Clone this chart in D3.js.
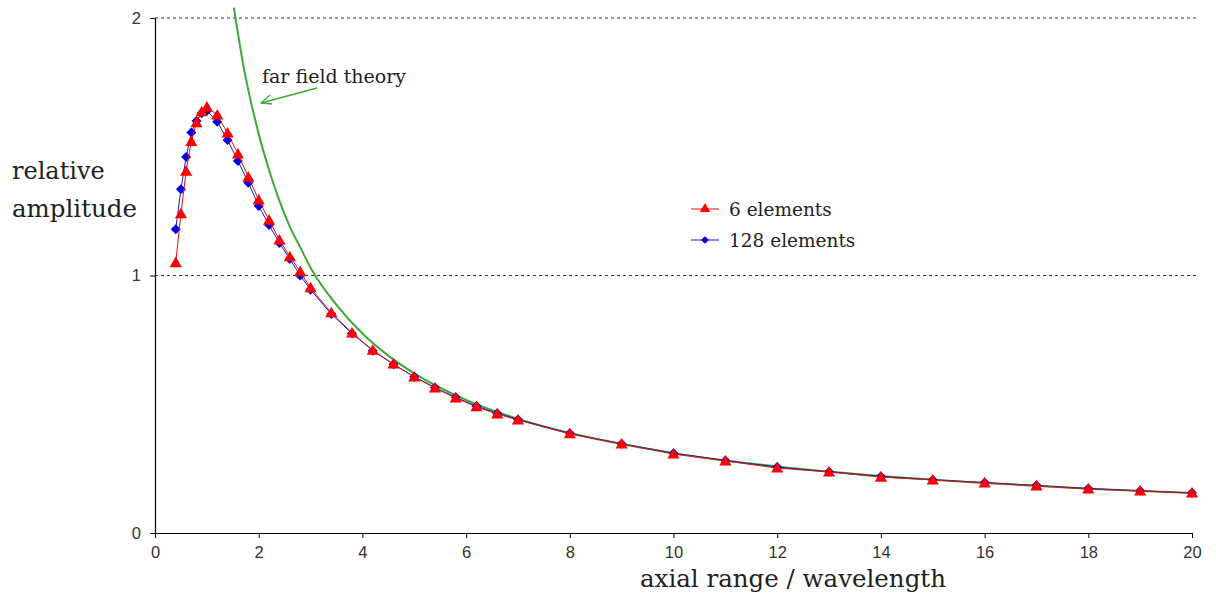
<!DOCTYPE html>
<html><head><meta charset="utf-8">
<script src="https://cdn.jsdelivr.net/npm/d3@7"></script>
<style>
html,body{margin:0;padding:0;background:#fff;}
svg{display:block;}
</style></head>
<body>
<svg id="chart" width="1216" height="603"></svg>
<script>
// ---- data ----
const xValues = [0.4,0.5,0.6,0.7,0.8,0.9,1.0,1.2,1.4,1.6,1.8,2.0,2.2,2.4,2.6,2.8,3.0,3.4,3.8,4.2,4.6,5.0,5.4,5.8,6.2,6.6,7.0,8,9,10,11,12,13,14,15,16,17,18,19,20];
const sixElements = [1.05,1.24,1.405,1.52,1.593,1.636,1.654,1.623,1.553,1.472,1.382,1.293,1.215,1.138,1.073,1.015,0.952,0.855,0.777,0.71,0.656,0.606,0.563,0.524,0.49,0.462,0.439,0.385,0.346,0.307,0.28,0.252,0.237,0.217,0.206,0.194,0.183,0.171,0.163,0.155];
const elements128 = [1.18,1.335,1.46,1.555,1.60,1.63,1.64,1.597,1.526,1.445,1.36,1.27,1.196,1.126,1.064,1.0,0.945,0.85,0.775,0.708,0.655,0.607,0.565,0.527,0.493,0.465,0.441,0.387,0.347,0.31,0.282,0.256,0.238,0.22,0.207,0.196,0.185,0.173,0.164,0.156];
const farFieldX = [1.52,1.6,1.7,1.8,2.0,2.2,2.4,2.6,2.8,3.0,3.5,4,4.5,5,6,7,8,10,12,14,16,18,20];
const farFieldY = [2.04,1.94,1.82,1.72,1.55,1.41,1.29,1.19,1.11,1.03,0.886,0.775,0.689,0.62,0.517,0.443,0.388,0.31,0.258,0.221,0.194,0.172,0.155];
const xTicks = [0,2,4,6,8,10,12,14,16,18,20];
const yTicks = [0,1,2];
const gridValues = [1,2];
const legendLabels = ["6 elements","128 elements"];

const svg = d3.select("#chart");
const x = d3.scaleLinear().domain([0,20]).range([155,1192]);
const y = d3.scaleLinear().domain([0,2]).range([533,18]);

const serif = "'DejaVu Serif', 'Liberation Serif', serif";
const sans = "'Liberation Sans', Arial, sans-serif";

// grid
svg.append("g").selectAll("line").data(gridValues).join("line")
  .attr("x1", x(0)).attr("x2", 1196)
  .attr("y1", d=>y(d)).attr("y2", d=>y(d))
  .attr("stroke","#333").attr("stroke-width",1).attr("stroke-dasharray","3,3");

// axes
const xAxis = svg.append("g").attr("transform",`translate(0,${y(0)})`)
  .call(d3.axisBottom(x).tickValues(xTicks).tickFormat(d3.format("d")).tickSize(5).tickSizeOuter(0).tickPadding(8));
const yAxis = svg.append("g").attr("transform",`translate(${x(0)},0)`)
  .call(d3.axisLeft(y).tickValues(yTicks).tickFormat(d3.format("d")).tickSize(5).tickSizeOuter(0).tickPadding(9));
[xAxis,yAxis].forEach(g=>{
  g.attr("font-size",16.5).attr("font-family",sans);
  g.selectAll("path.domain").attr("stroke","#000").attr("stroke-width",1.2);
  g.selectAll(".tick line").attr("stroke","#000");
  g.selectAll("text").attr("font-family",sans).attr("font-size",16.5).attr("fill","#333");
});

// far field curve
const line = d3.line().x(d=>x(d[0])).y(d=>y(d[1]));
svg.append("path").datum(d3.zip(farFieldX, farFieldY))
  .attr("d", line.curve(d3.curveMonotoneX))
  .attr("fill","none").attr("stroke","#3aaa35").attr("stroke-width",2);

const lineStraight = d3.line().x(d=>x(d[0])).y(d=>y(d[1]));
const blueData = d3.zip(xValues, elements128);
const redData = d3.zip(xValues, sixElements);

const diamond = d3.symbol(d3.symbolSquare, 50)();
const tri = d3.symbol(d3.symbolTriangle, 64)();

// blue series
svg.append("path").datum(blueData).attr("d", lineStraight)
  .attr("fill","none").attr("stroke","#1a1acc").attr("stroke-width",1);
svg.append("g").selectAll("path").data(blueData).join("path")
  .attr("d", diamond)
  .attr("transform", d=>`translate(${x(d[0])},${y(d[1])}) rotate(45)`)
  .attr("fill","#0000e0");

// red series
svg.append("path").datum(redData).attr("d", lineStraight)
  .attr("fill","none").attr("stroke","#e01010").attr("stroke-width",1);
svg.append("g").selectAll("path").data(redData).join("path")
  .attr("d", tri)
  .attr("transform", d=>`translate(${x(d[0])},${y(d[1])+1})`)
  .attr("fill","#ff0000");

// annotation
svg.append("text").attr("x",262).attr("y",83).text("far field theory")
  .attr("font-family",serif).attr("font-size",19).attr("fill","#222");
svg.append("line").attr("x1",317).attr("y1",88).attr("x2",261).attr("y2",103)
  .attr("stroke","#3aaa35").attr("stroke-width",1.3);
svg.append("path").attr("d","M270,95 L261,103 L272,104")
  .attr("fill","none").attr("stroke","#3aaa35").attr("stroke-width",1.3);

// legend
const legend = svg.append("g");
const legY = [209, 240];
legend.append("line").attr("x1",691).attr("x2",719).attr("y1",legY[0]).attr("y2",legY[0]).attr("stroke","#e01010");
legend.append("path").attr("d",d3.symbol(d3.symbolTriangle,48)()).attr("transform",`translate(705,${legY[0]})`).attr("fill","#ff0000");
legend.append("line").attr("x1",691).attr("x2",719).attr("y1",legY[1]).attr("y2",legY[1]).attr("stroke","#1a1acc");
legend.append("path").attr("d",d3.symbol(d3.symbolSquare,30)()).attr("transform",`translate(705,${legY[1]}) rotate(45)`).attr("fill","#0000e0");
legend.selectAll("text").data(legendLabels).join("text")
  .attr("x",729).attr("y",(d,i)=>legY[i]+7).text(d=>d)
  .attr("font-family",serif).attr("font-size",18.5).attr("fill","#222");

// axis titles
svg.append("text").attr("x",12).attr("y",179).text("relative")
  .attr("font-family",serif).attr("font-size",24).attr("fill","#222");
svg.append("text").attr("x",12).attr("y",217).text("amplitude")
  .attr("font-family",serif).attr("font-size",24.5).attr("fill","#222");
svg.append("text").attr("x",640).attr("y",587).text("axial range / wavelength")
  .attr("font-family",serif).attr("font-size",24.5).attr("fill","#222");
</script>
</body></html>
